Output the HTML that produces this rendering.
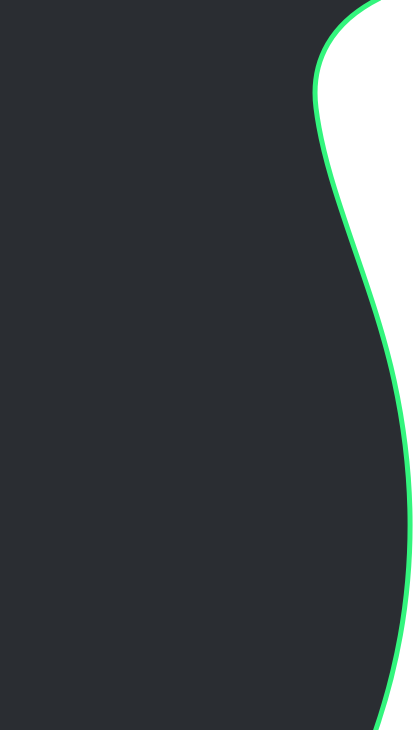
<!DOCTYPE html>
<html><head><meta charset="utf-8"><style>
html,body{margin:0;padding:0;width:420px;height:730px;overflow:hidden;background:#fff}
svg{display:block}
</style></head><body>
<svg width="420" height="730" viewBox="0 0 420 730">
<rect x="0" y="0" width="420" height="730" fill="#ffffff"/>
<path d="M0,0 L380,0 C332,22 310,60 316,108 C326,190 372,280 394,380 C418,490 418,610 374,735 L0,735 Z" fill="#2a2d32"/>
<path d="M380,-2 C332,22 310,60 316,108 C326,190 372,280 394,380 C418,490 418,610 374,735" fill="none" stroke="#33f57d" stroke-width="5"/>
</svg>
</body></html>
